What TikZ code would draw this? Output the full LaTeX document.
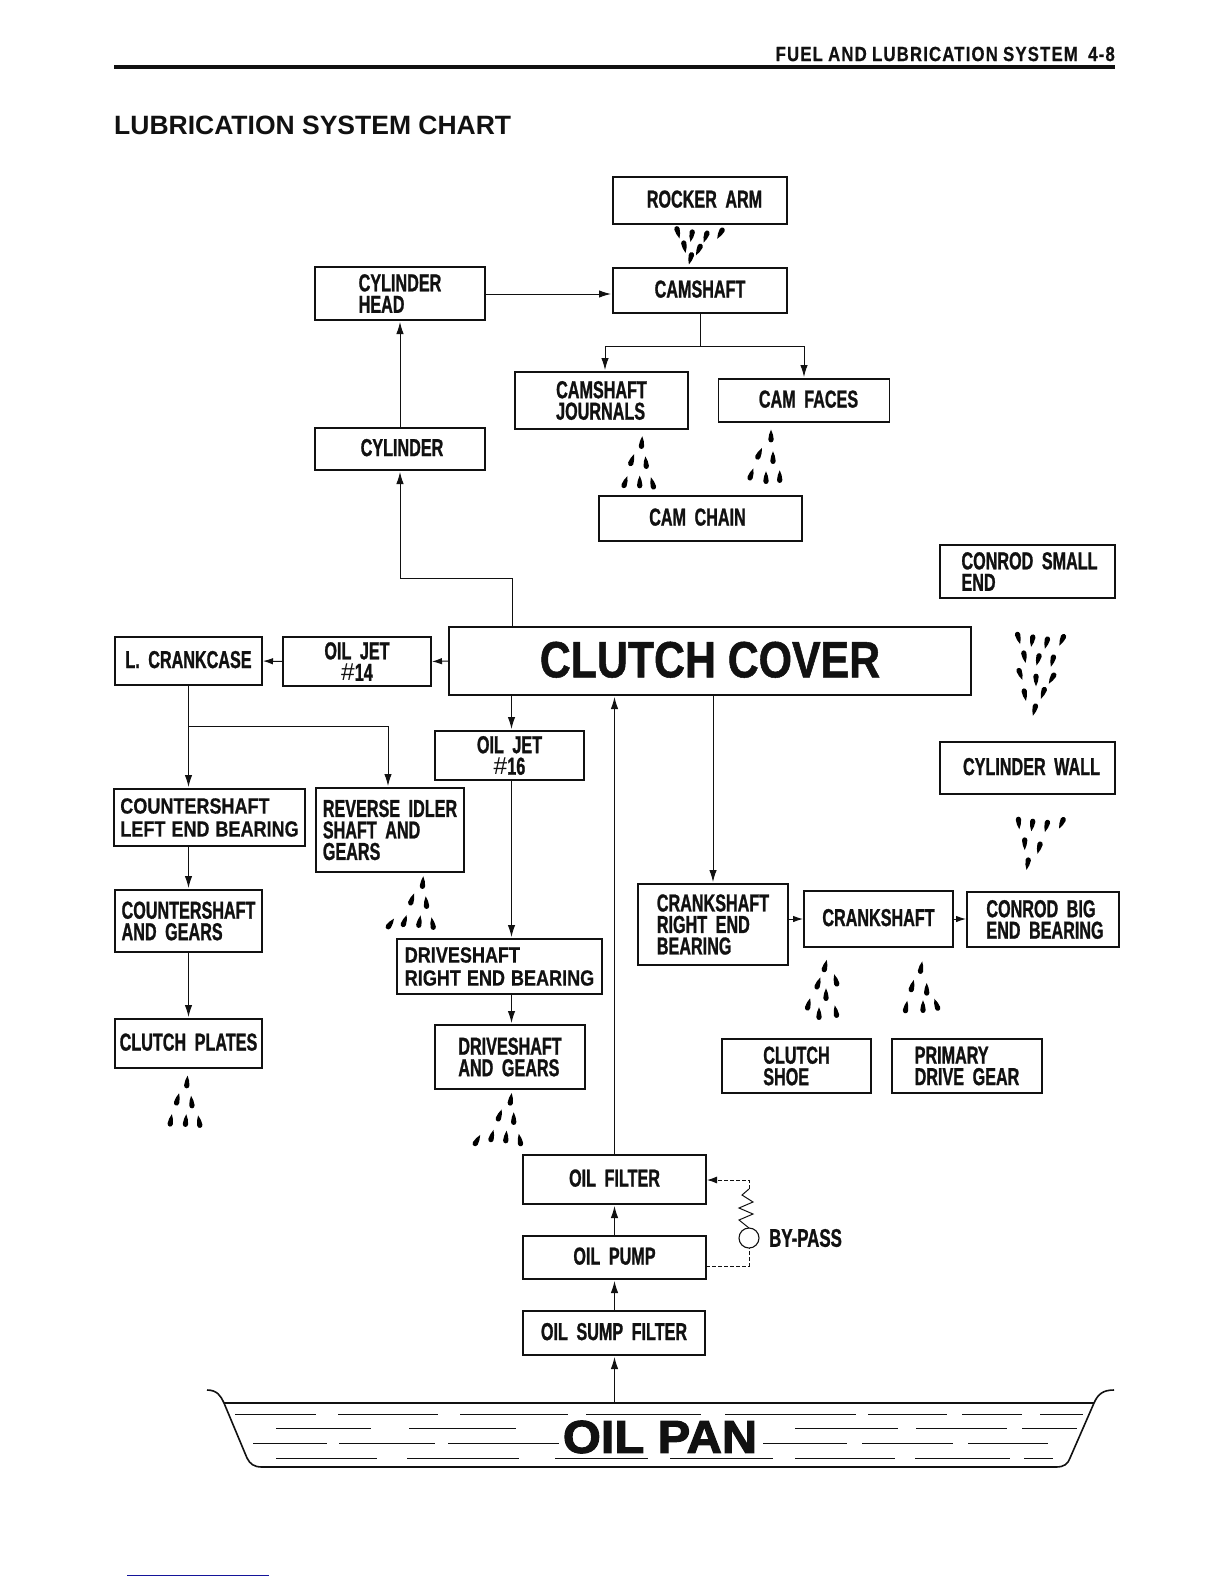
\documentclass[tikz,border=0pt]{standalone}
\usepackage{fontspec}
\usepackage{xcolor}
\usetikzlibrary{arrows.meta,calc,positioning}
\newfontfamily\chartcond[FakeStretch=0.66,WordSpace=1.9,FakeBold=1]{Liberation Sans}
\newfontfamily\chartwide[FakeStretch=0.82,WordSpace=1.2,FakeBold=0.5]{Liberation Sans}
\newfontfamily\charthead[FakeStretch=0.82,WordSpace=0.9,LetterSpace=5.5,FakeBold=0.5]{Liberation Sans}
\newfontfamily\chartplain{Liberation Sans}
\newfontfamily\chartheavy[FakeStretch=0.84,FakeBold=1]{Liberation Sans}
\newfontfamily\chartpan[FakeStretch=1.06,FakeBold=2.5]{Liberation Sans}
\newcommand{\jethash}{{\mdseries\chartplain\#}}
\newcommand{\oildrop}[3]{\fill[shift={(#1,#2)},rotate=#3]
  (0,-7) .. controls (1.2,-3.5) and (2.9,-1) .. (2.7,2.8)
  .. controls (2.5,6.6) and (-2.5,6.6) .. (-2.7,2.8)
  .. controls (-2.9,-1) and (-1.2,-3.5) .. (0,-7) -- cycle;}
\definecolor{ChartInk}{HTML}{111111}
\definecolor{ChartBlue}{HTML}{14149A}
\tikzset{
  chartbox/.style={draw=ChartInk,line width=1.1pt,inner sep=0pt,outer sep=0pt,
    align=left,text=ChartInk,
    font=\chartcond\bfseries\fontsize{24.5}{21.5}\selectfont},
  oneline/.style={chartbox,text depth=3pt},
  widebox/.style={chartbox,font=\chartwide\bfseries\fontsize{22}{23}\selectfont},
  flowline/.style={draw=ChartInk,line width=1pt},
  flowarrow/.style={flowline,-{Latex[length=12pt,width=7.5pt]},shorten >=2pt},
  shortarrow/.style={flowline,-{Latex[length=10pt,width=6.5pt]},shorten >=1pt},
  bypassline/.style={flowline,dash pattern=on 4pt off 2pt}
}
\begin{document}
\begin{tikzpicture}[x=1pt,y=-1pt]
  \useasboundingbox (0,0) rectangle (1224,1584);
  \fill[white] (0,0) rectangle (1224,1584);

  \draw[ChartInk,line width=3.6pt] (114,67) -- (1115,67);
  \node[anchor=east,inner sep=0pt,text=ChartInk,font=\charthead\bfseries\fontsize{20.5}{22}\selectfont]
    (pagehead) at (1115,54) {FUEL AND LUBRICATION SYSTEM\ \ 4-8};
  \node[anchor=west,text=ChartInk,inner sep=0pt,font=\chartplain\bfseries\fontsize{26.5}{28}\selectfont]
    (charttitle) at (114,125.5) {LUBRICATION SYSTEM CHART};

  \node[oneline,minimum width=174pt,minimum height=47pt] (rocker) at (700,200.5) {\hspace*{9pt}ROCKER ARM};
  \node[oneline,minimum width=174pt,minimum height=45pt] (camshaft) at (700,290.5) {CAMSHAFT};
  \node[chartbox,minimum width=170pt,minimum height=53pt] (cylhead) at (400,293.5) {CYLINDER\\HEAD};
  \node[oneline,minimum width=170pt,minimum height=42pt] (cylinder) at (400,449) {\hspace*{4pt}CYLINDER};
  \node[chartbox,minimum width=173pt,minimum height=57pt] (journals) at (601.5,400.5) {CAMSHAFT\\JOURNALS};
  \node[oneline,minimum width=171pt,minimum height=43pt] (camfaces) at (804,400.5) {\hspace*{9pt}CAM FACES};
  \node[oneline,minimum width=203pt,minimum height=45pt] (camchain) at (700.5,518.5) {CAM CHAIN\hspace*{6pt}};
  \node[chartbox,minimum width=175pt,minimum height=53pt] (smallend) at (1027.5,571.5) {\hspace*{4pt}CONROD SMALL\\\hspace*{4pt}END};
  \node[oneline,minimum width=175pt,minimum height=52pt] (cylwall) at (1027.5,768) {\hspace*{8pt}CYLINDER WALL};
  \node[oneline,line width=2.2pt,minimum width=522pt,minimum height=68pt,
    font=\chartheavy\bfseries\fontsize{51}{51}\selectfont] (cover) at (710,661) {CLUTCH COVER};
  \node[oneline,minimum width=147pt,minimum height=48pt] (crankcase) at (188.5,661) {L. CRANKCASE};
  \node[chartbox,align=center,minimum width=148pt,minimum height=49pt] (jetleft) at (357,661.5) {OIL JET\\\jethash 14};
  \node[chartbox,align=center,minimum width=149pt,minimum height=49pt] (jetright) at (509.5,755.5) {OIL JET\\\jethash 16};
  \node[widebox,minimum width=191pt,minimum height=57pt] (leftbearing) at (209.5,817.5) {COUNTERSHAFT\\LEFT END BEARING};
  \node[chartbox,minimum width=148pt,minimum height=84pt] (idler) at (390,830) {REVERSE IDLER\\SHAFT AND\\GEARS};
  \node[chartbox,minimum width=147pt,minimum height=62pt] (countergears) at (188.5,921) {COUNTERSHAFT\\AND GEARS};
  \node[oneline,minimum width=147pt,minimum height=49pt] (plates) at (188.5,1043.5) {CLUTCH PLATES};
  \node[widebox,minimum width=205pt,minimum height=55pt] (rightbearing) at (499.5,966.5) {DRIVESHAFT\\RIGHT END BEARING};
  \node[chartbox,minimum width=150pt,minimum height=64pt] (drivegears) at (510,1057) {DRIVESHAFT\\AND GEARS};
  \node[chartbox,minimum width=150pt,minimum height=81pt] (crankbearing) at (713,924.5) {CRANKSHAFT\\RIGHT END\\BEARING};
  \node[oneline,minimum width=149pt,minimum height=56pt] (crankshaft) at (878.5,919) {CRANKSHAFT};
  \node[chartbox,minimum width=152pt,minimum height=55pt] (bigend) at (1043,919.5) {\hspace*{4pt}CONROD BIG\\\hspace*{4pt}END BEARING};
  \node[chartbox,minimum width=149pt,minimum height=54pt] (shoe) at (796.5,1066) {CLUTCH\\SHOE};
  \node[chartbox,minimum width=150pt,minimum height=54pt] (primary) at (967,1066) {PRIMARY\\DRIVE GEAR};
  \node[oneline,minimum width=183pt,minimum height=49pt] (filter) at (614.5,1179.5) {OIL FILTER};
  \node[oneline,minimum width=183pt,minimum height=43pt] (pump) at (614.5,1257.5) {OIL PUMP};
  \node[oneline,minimum width=182pt,minimum height=44pt] (sump) at (614,1333) {OIL SUMP FILTER};
  \node[draw=ChartInk,line width=1.1pt,circle,minimum size=20pt,inner sep=0pt,outer sep=0pt] (valve) at (749,1238) {};
  \node[anchor=west,inner sep=0pt,text=ChartInk,font=\chartcond\bfseries\fontsize{25.5}{24}\selectfont]
    (bypass) at (769,1238) {BY-PASS};

  \draw[flowarrow] (cylhead.east |- 0,294) -- (camshaft.west |- 0,294);
  \draw[flowarrow] (cylinder.north) -- (cylhead.south);
  \coordinate (coverup) at (512,627);
  \draw[flowarrow] (coverup) -- (512,578) -| (cylinder.south);
  \coordinate (camsplit) at (camshaft.south |- 0,346);
  \draw[flowline] (camshaft.south) -- (camsplit);
  \draw[flowarrow] (camsplit) -| ([xshift=3.5pt]journals.north);
  \draw[flowarrow] (camsplit) -| (camfaces.north);
  \draw[shortarrow] (cover.west) -- (jetleft.east);
  \draw[shortarrow] (jetleft.west) -- (crankcase.east);
  \coordinate (casesplit) at (crankcase.south |- 0,726);
  \draw[flowarrow] (crankcase.south) -- (crankcase.south |- leftbearing.north);
  \draw[flowarrow] (casesplit) -| ([xshift=-2pt]idler.north);
  \draw[flowarrow] (crankcase.south |- leftbearing.south) -- (countergears.north);
  \draw[flowarrow] (countergears.south) -- (plates.north);
  \coordinate (jetrun) at (511.5,700);
  \draw[flowarrow] (jetrun |- cover.south) -- (jetrun |- jetright.north);
  \draw[flowarrow] (jetrun |- jetright.south) -- (jetrun |- rightbearing.north);
  \draw[flowarrow] (jetrun |- rightbearing.south) -- (jetrun |- drivegears.north);
  \draw[flowarrow] (filter.north) -- (filter.north |- cover.south);
  \draw[flowarrow] (crankbearing.north |- cover.south) -- (crankbearing.north);
  \draw[shortarrow] (crankbearing.east |- crankshaft.east) -- (crankshaft.west);
  \draw[shortarrow] (crankshaft.east) -- (crankshaft.east -| bigend.west);
  \draw[flowarrow] (pump.north) -- (filter.south);
  \draw[flowarrow] (pump.south |- sump.north) -- (pump.south);
  \coordinate (panlevel) at (614.5,1403);
  \draw[flowarrow] (panlevel) -- (panlevel |- sump.south);

  \coordinate (bypassout) at (706,1266);
  \coordinate (bypassin) at (706,1180);
  \draw[bypassline] (bypassout) -| (valve.south);
  \draw[flowline] (valve.north) -- (739,1220) -- (753,1214) -- (739,1208)
    -- (753,1202) -- (742,1195) -- (749,1189);
  \draw[bypassline,-{Latex[length=10pt,width=7pt]},shorten >=1pt]
    (749,1189) |- (bypassin);

  \foreach \dropx/\dropy/\droprot in {
    677.7/231.7/195, 691.7/235/170, 706/236/160, 720.7/232.7/150,
    684.3/246/190, 699/249/155, 690.7/257.7/165,
    1018.3/637.3/195, 1032.3/640/170, 1046.7/642/165, 1062.3/639.3/155,
    1024.3/656/190, 1038.3/658.7/165, 1052.7/660/165,
    1020/673.3/200, 1036/679.3/180, 1052.3/677.7/150,
    1024.7/694/190, 1043.3/692.3/160, 1034.7/709/165,
    1018.7/822.3/185, 1032.3/824.3/172, 1046.7/825.3/165, 1062/822.3/155,
    1024.7/843/180, 1039.3/847/165, 1027.7/863/170,
    641.7/443.3/-5, 631.7/460.7/-20, 646/463.3/5,
    625/482.7/-20, 639.7/482.7/0, 652.7/484/15,
    771/436.7/0, 759/454.3/-25, 773/458.3/0,
    751/475/-20, 766/478.3/0, 779.7/477.3/0,
    422.7/883.3/-5, 411.7/900/-20, 426.3/903.3/5,
    390/924.3/-35, 404.3/921.7/-20, 419.3/922.3/-10, 432.7/924.3/10,
    187/1082.7/-5, 177.3/1100/-15, 191.7/1102.7/5,
    170.7/1121/-10, 185.7/1121.3/-5, 199.3/1122.3/10,
    510.7/1100/-8, 499.3/1116/-20, 513.7/1119.3/0,
    476.7/1141/-30, 491.7/1136.7/-15, 506/1137.7/-5, 520/1140.7/10,
    825/966.7/-15, 818/984/-20, 836/981/15, 826/995.3/0,
    808.3/1005/-15, 819/1014.3/0, 836/1012.3/10,
    921/968.3/-10, 912/986.7/-15, 926.7/990/0,
    906/1007.7/-10, 923/1007.3/0, 936.7/1005.3/20}
    {\oildrop{\dropx}{\dropy}{\droprot}}

  \draw[ChartInk,line width=1.6pt]
    (207,1390) .. controls (217,1390) and (221,1396) .. (224,1403)
    -- (247,1458) .. controls (250,1464) and (254,1467) .. (262,1467)
    -- (1056,1467) .. controls (1064,1467) and (1068,1464) .. (1070,1458)
    -- (1094,1403) .. controls (1098,1394) and (1103,1390) .. (1114,1390);
  \draw[ChartInk,line width=1.4pt] (224,1403) -- (1094,1403);
  \foreach \panrow/\panfrom/\panto in {
    1414/235/316, 1414/338/438, 1414/460/568, 1414/586/701,
    1414/725/856, 1414/868/947, 1414/962/1022, 1414/1040/1083,
    1428/276/371, 1428/409/516, 1428/795/898, 1428/916/1007, 1428/1022/1077,
    1443/253/327, 1443/339/435, 1443/448/559,
    1443/763/847, 1443/862/953, 1443/968/1048,
    1458/276/377, 1458/407/519, 1458/555/648, 1458/670/773,
    1458/795/895, 1458/915/1010, 1458/1024/1053}
    {\draw[ChartInk,line width=0.9pt] (\panfrom,\panrow) -- (\panto,\panrow);}
  \node[text=ChartInk,inner sep=0pt,font=\chartpan\bfseries\fontsize{46}{46}\selectfont]
    (oilpan) at (660,1437) {OIL PAN};

  \draw[ChartBlue,line width=0.8pt] (127,1575) -- (269,1575);
\end{tikzpicture}
\end{document}
